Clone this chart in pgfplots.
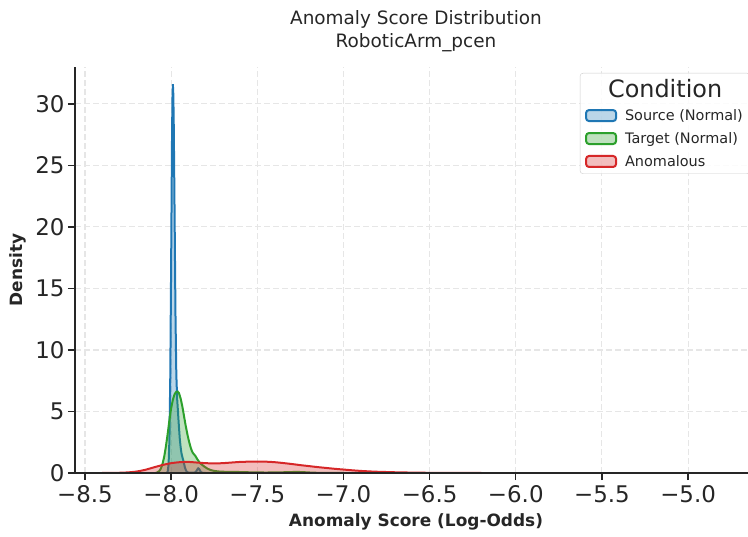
\documentclass[border=0pt]{standalone}
\usepackage{pgfplots}
\pgfplotsset{compat=1.18}
\usepackage{fontspec}
\setmainfont{DejaVu Sans}
\definecolor{cblue}{HTML}{1F77B4}
\definecolor{cgreen}{HTML}{2CA02C}
\definecolor{cred}{HTML}{D62728}
\definecolor{spine}{HTML}{262626}
\definecolor{gridc}{HTML}{E6E6E6}
\definecolor{legc}{HTML}{CCCCCC}
\begin{document}
\begin{tikzpicture}
\begin{axis}[
  set layers=standard,
  every axis plot/.append style={on layer=axis grid},
  width=682bp, height=406bp, scale only axis,
  xmin=-8.558, xmax=-4.600, ymin=0, ymax=33,
  axis x line*=bottom, axis y line*=left,
  axis line style={spine, line width=1.6bp},
  tick align=outside, major tick length=7bp,
  tick style={spine, line width=1.4bp},
  xtick={-8.5,-8.0,-7.5,-7.0,-6.5,-6.0,-5.5,-5.0},
  xticklabels={−8.5,−8.0,−7.5,−7.0,−6.5,−6.0,−5.5,−5.0},
  ytick={0,5,10,15,20,25,30},
  yticklabels={0,5,10,15,20,25,30},
  grid=major, grid style={gridc, dash pattern=on 6bp off 3bp, line width=1.1bp},
  tick label style={font=\fontsize{23}{27}\selectfont, text=spine},
  xticklabel style={yshift=-2bp},
  /pgf/number format/assume math mode=true,
  xlabel={Anomaly Score (Log-Odds)},
  xlabel style={font=\bfseries\fontsize{17}{20}\selectfont, text=spine, at={(axis description cs:0.5,0)}, anchor=north, yshift=-37bp},
  ylabel={Density},
  ylabel style={font=\bfseries\fontsize{17}{20}\selectfont, text=spine, at={(axis description cs:-0.0836,0.5)}, anchor=center},
  legend style={at={(1,1)}, anchor=north east, xshift=-7bp, yshift=-6bp, draw=legc, rounded corners=3bp, fill=white, fill opacity=0.85, text opacity=1, draw opacity=1, font=\fontsize{14.5}{17}\selectfont, text=spine, inner xsep=5bp, inner ysep=4bp, row sep=6.5bp, column sep=6bp},
  legend cell align=left,
  legend image code/.code={\draw[#1, line width=2bp] (0bp,-5.5bp) rectangle (30bp,5.5bp);},
]
\addlegendimage{empty legend}
\addlegendentry{\hspace*{-17bp}\fontsize{24}{28}\selectfont Condition}
\addlegendimage{draw=cblue, fill=cblue, fill opacity=0.3, draw opacity=1}
\addlegendentry{Source (Normal)}
\addlegendimage{draw=cgreen, fill=cgreen, fill opacity=0.3, draw opacity=1}
\addlegendentry{Target (Normal)}
\addlegendimage{draw=cred, fill=cred, fill opacity=0.3, draw opacity=1}
\addlegendentry{Anomalous}

\pgfplotstableread{
x y
-8.030 0
-8.025 0.015
-8.020 0.12
-8.015 0.67
-8.010 2.67
-8.005 7.9
-8.000 17.1
-7.995 27.1
-7.9925 30.4
-7.990 31.6
-7.9875 30.8
-7.985 28.5
-7.980 21.0
-7.975 13.0
-7.970 8.0
-7.965 6.0
-7.960 4.9
-7.955 3.8
-7.950 2.8
-7.945 2.1
-7.940 1.6
-7.935 1.3
-7.930 1.05
-7.925 0.75
-7.920 0.45
-7.915 0.25
-7.910 0.12
-7.905 0.06
-7.895 0.03
-7.880 0.02
-7.865 0.03
-7.858 0.08
-7.853 0.17
-7.848 0.29
-7.843 0.38
-7.838 0.34
-7.833 0.22
-7.828 0.1
-7.822 0.03
-7.812 0.005
-7.800 0
}\srcdata
\pgfplotstableread{
x y
-8.090 0
-8.080 0.05
-8.070 0.15
-8.060 0.35
-8.050 0.75
-8.040 1.35
-8.030 2.2
-8.020 3.2
-8.010 4.3
-8.000 5.25
-7.990 5.95
-7.980 6.4
-7.970 6.6
-7.962 6.62
-7.955 6.5
-7.945 6.05
-7.935 5.4
-7.925 4.6
-7.915 3.8
-7.905 3.1
-7.895 2.5
-7.885 2.0
-7.875 1.65
-7.860 1.4
-7.845 1.05
-7.830 0.78
-7.810 0.55
-7.790 0.36
-7.770 0.24
-7.750 0.17
-7.720 0.12
-7.690 0.1
-7.650 0.09
-7.600 0.08
-7.550 0.06
-7.500 0.045
-7.450 0.04
-7.400 0.045
-7.350 0.06
-7.300 0.08
-7.260 0.085
-7.220 0.06
-7.180 0.03
-7.130 0.01
-7.070 0.002
-7.000 0
}\tgtdata
\pgfplotstableread{
x y
-8.40 0
-8.35 0.005
-8.30 0.02
-8.25 0.05
-8.20 0.12
-8.15 0.26
-8.10 0.46
-8.05 0.65
-8.00 0.8
-7.95 0.88
-7.90 0.9
-7.85 0.85
-7.80 0.8
-7.75 0.78
-7.70 0.8
-7.65 0.85
-7.60 0.9
-7.55 0.92
-7.50 0.93
-7.45 0.92
-7.40 0.88
-7.35 0.81
-7.30 0.73
-7.25 0.64
-7.20 0.56
-7.15 0.48
-7.10 0.41
-7.05 0.34
-7.00 0.28
-6.95 0.22
-6.90 0.17
-6.85 0.13
-6.80 0.10
-6.75 0.08
-6.70 0.06
-6.65 0.045
-6.60 0.035
-6.55 0.025
-6.50 0.016
-6.45 0.01
-6.40 0.005
-6.30 0.001
-6.20 0
}\anodata

\addplot[draw=none, fill=cblue, fill opacity=0.3, forget plot] table {\srcdata} \closedcycle;
\addplot[cblue, line width=2bp, forget plot] table {\srcdata};
\addplot[draw=none, fill=cgreen, fill opacity=0.3, smooth, tension=0.3, forget plot] table {\tgtdata} \closedcycle;
\addplot[cgreen, line width=2bp, smooth, tension=0.3, forget plot] table {\tgtdata};
\addplot[draw=none, fill=cred, fill opacity=0.3, smooth, tension=0.4, forget plot] table {\anodata} \closedcycle;
\addplot[cred, line width=2bp, smooth, tension=0.4, forget plot] table {\anodata};
\end{axis}
\node[anchor=south, align=center, font=\fontsize{18.5}{23}\selectfont, text=spine] at ([yshift=12bp]current axis.north) {Anomaly Score Distribution\\RoboticArm\_pcen};
\pgfresetboundingbox
\path[use as bounding box] ([xshift=-75bp,yshift=-64bp]current axis.south west) rectangle ([xshift=-9bp,yshift=67bp]current axis.north east);
\end{tikzpicture}
\end{document}
